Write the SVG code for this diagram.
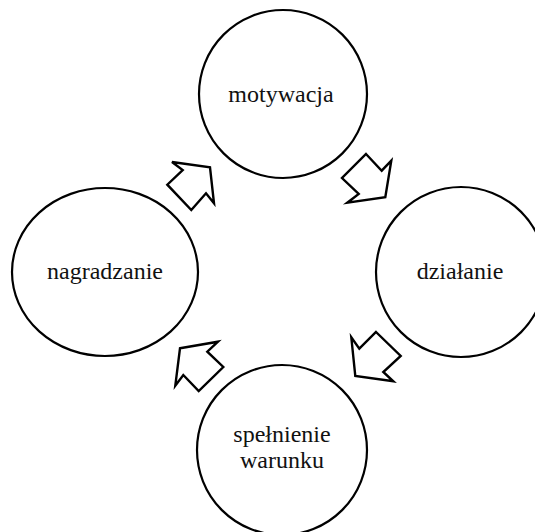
<svg xmlns="http://www.w3.org/2000/svg" width="535" height="532" viewBox="0 0 535 532">
<style>
.n{fill:#fff;stroke:#000;stroke-width:2.2}
.t{font-family:'Liberation Serif','Times New Roman',Times,serif;font-size:24px;fill:#111;text-anchor:middle}
.a{fill:#fff;stroke:#000;stroke-width:2.4;stroke-linejoin:miter}
</style>
<rect width="535" height="532" fill="#fff"/>
<g id="motywacja"><ellipse class="n" cx="283" cy="94" rx="84" ry="84"/><text class="t" x="281" y="102" font-family="Liberation Serif, serif">motywacja</text></g>
<g id="dzialanie"><ellipse class="n" cx="461" cy="272" rx="85" ry="85"/><text class="t" x="460" y="279" font-family="Liberation Serif, serif">działanie</text></g>
<g id="spelnienie"><ellipse class="n" cx="282" cy="450" rx="85" ry="85"/><text class="t" x="282" y="442" font-family="Liberation Serif, serif">spełnienie</text><text class="t" x="282" y="468" font-family="Liberation Serif, serif">warunku</text></g>
<g id="nagradzanie"><ellipse class="n" cx="105" cy="272" rx="93" ry="84"/><text class="t" x="105" y="279" font-family="Liberation Serif, serif">nagradzanie</text></g>
<g id="connectors">
<polygon class="a" points="172,162 210,167.3 214,203.3 206,193.3 191.3,210 167.3,184.7 182.7,170"/>
<polygon class="a" points="366,154 381.7,170.7 391.3,160.7 385.3,197.3 347.3,202.7 358.7,194 342,178"/>
<polygon class="a" points="376,332 400.7,356 383.3,372 393.3,381.3 355.3,376 351.3,337.3 359.3,348.7"/>
<polygon class="a" points="180,348.3 218,341.7 207.3,351.7 223.3,367 198.7,391 183.3,375 175.3,385.7"/>
</g>
</svg>
